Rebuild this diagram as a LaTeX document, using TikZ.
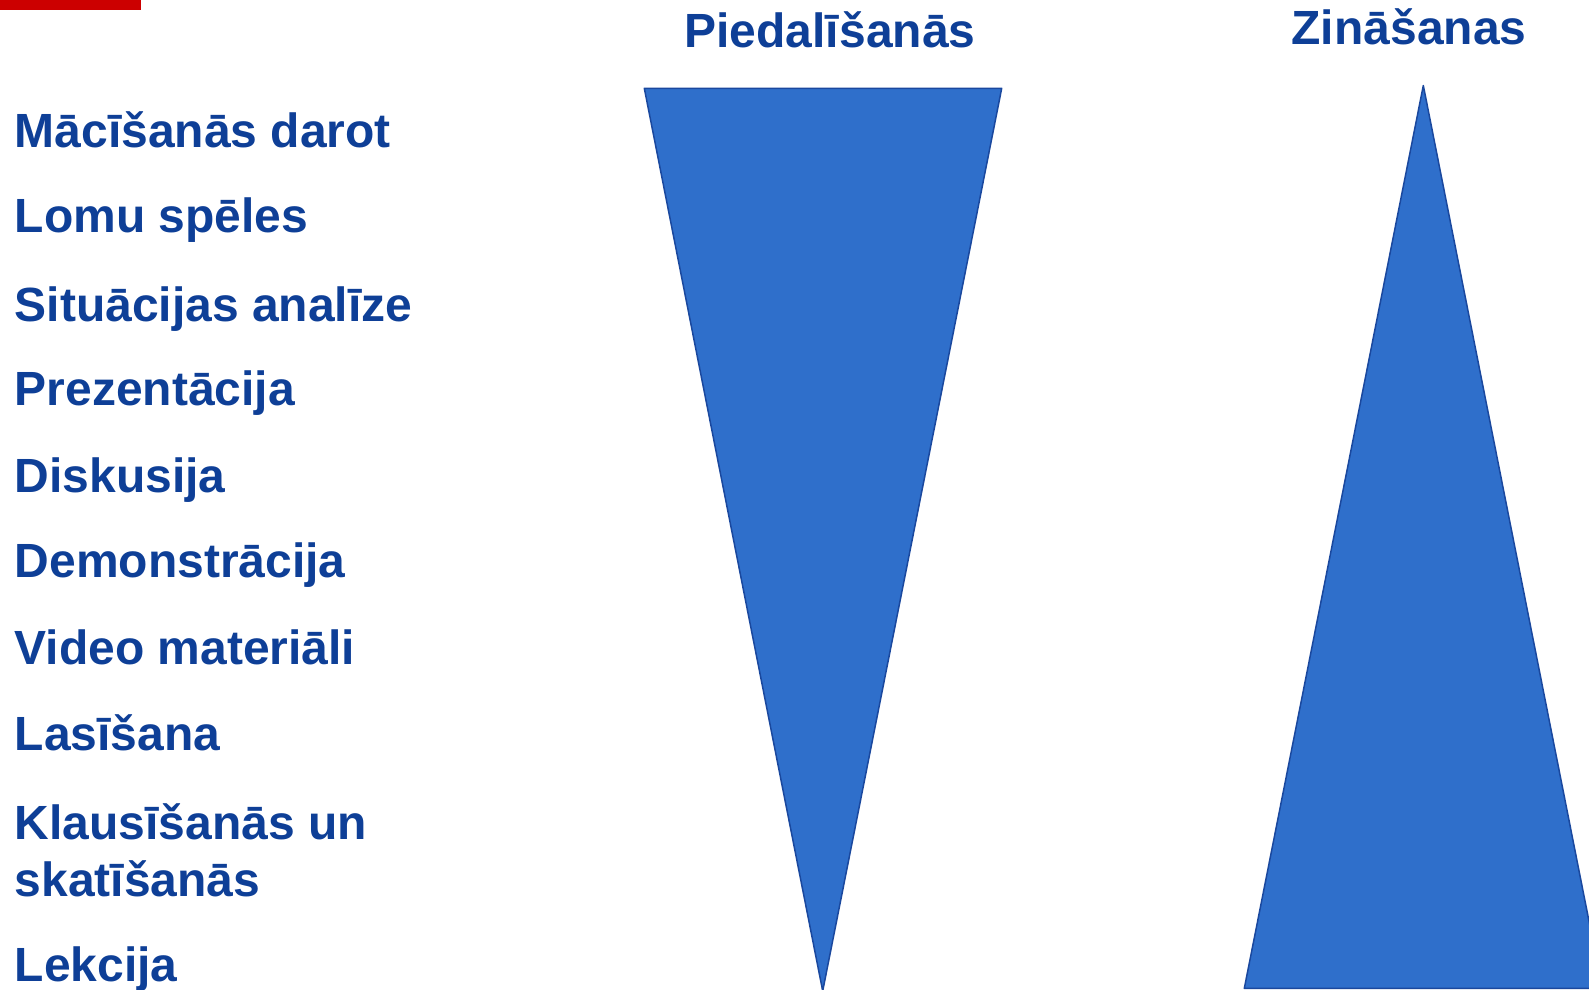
\documentclass[tikz,border=0pt]{standalone}
\usepackage{fontspec}
\setmainfont{Liberation Sans}
\definecolor{txtblue}{RGB}{14,63,151}
\definecolor{trifill}{RGB}{47,111,203}
\definecolor{triline}{RGB}{26,72,158}
\definecolor{barred}{RGB}{204,0,0}
\tikzset{
  item/.style={anchor=base west, inner sep=0pt, text=txtblue, font=\fontsize{48bp}{58bp}\selectfont\bfseries},
  head/.style={anchor=base, inner sep=0pt, text=txtblue, font=\fontsize{48bp}{58bp}\selectfont\bfseries},
  tri/.style={fill=trifill, draw=triline, line width=1.5bp, line join=round},
}
\begin{document}
\begin{tikzpicture}[x=1bp,y=-1bp]
\useasboundingbox (0,0) rectangle (1589,989);
\clip (0,0) rectangle (1589,989);
\fill[barred] (0,0) rectangle (141,10);
% triangles
\coordinate (pL) at (644.3,88.3);
\coordinate (pR) at (1001.7,88.3);
\coordinate (pT) at (822.7,991);
\draw[tri] (pL) -- (pR) -- (pT) -- cycle;
\coordinate (zA) at (1423.3,85.5);
\coordinate (zL) at (1244.3,988.3);
\coordinate (zR) at (1602.3,988.3);
\draw[tri] (zA) -- (zR) -- (zL) -- cycle;
% headings
\node[head] (hP) at (830,47.7) {Piedalīšanās};
\node[head] (hZ) at (1409,44) {Zināšanas};
% list
\node[item] (i1) at (14.5,147.3) {Mācīšanās darot};
\node[item] (i2) at (14.5,232.3) {Lomu spēles};
\node[item] (i3) at (14.5,321) {Situācijas analīze};
\node[item] (i4) at (14.5,405.7) {Prezentācija};
\node[item] (i5) at (14.5,492.3) {Diskusija};
\node[item] (i6) at (14.5,577.7) {Demonstrācija};
\node[item] (i7) at (14.5,664.3) {Video materiāli};
\node[item] (i8) at (14.5,750) {Lasīšana};
\node[item] (i9a) at (14.5,839.3) {Klausīšanās un};
\node[item] (i9b) at (14.5,896.7) {skatīšanās};
\node[item] (i10) at (14.5,981.7) {Lekcija};
\end{tikzpicture}
\end{document}
